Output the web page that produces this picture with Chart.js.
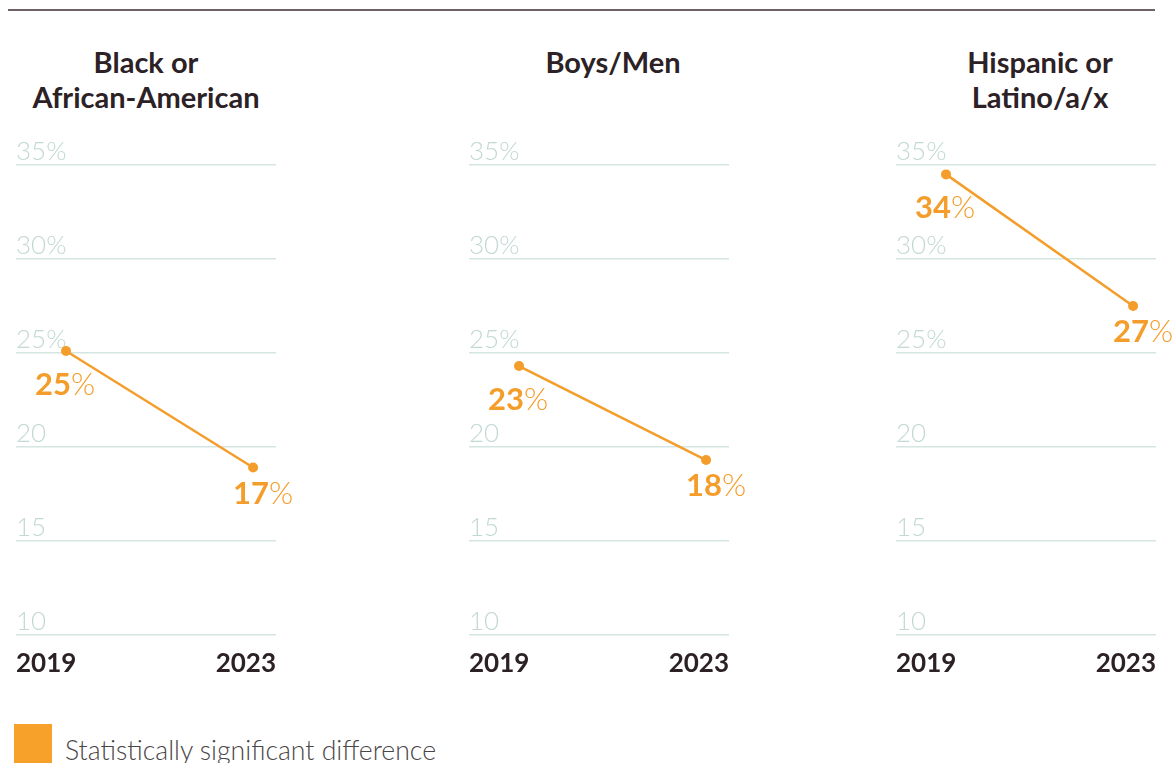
<!DOCTYPE html>
<html>
<head>
<meta charset="utf-8">
<script src="https://cdn.jsdelivr.net/npm/chart.js@4.4.1/dist/chart.umd.min.js"></script>
<style>
  html, body { margin: 0; padding: 0; background: #ffffff; }
  body { width: 1176px; height: 763px; position: relative; overflow: hidden; font-family: Lato, "Noto Sans", sans-serif; }
  .rule { position: absolute; left: 8px; top: 9px; width: 1147px; height: 2px; background: #6e6266; }
  .title { position: absolute; top: 44px; width: 300px; text-align: center; font-family: Lato, sans-serif; font-weight: 700; font-size: 29px; line-height: 35px; color: #2c2125; }
  canvas { position: absolute; top: 120px; }
  .legend-box { position: absolute; left: 14px; top: 724px; width: 38px; height: 40px; background: #F7A02A; }
  .legend-text { position: absolute; left: 65px; top: 735px; font-family: Lato, sans-serif; font-weight: 300; font-size: 26.6px; line-height: 30px; color: #4a4546; white-space: nowrap; }
</style>
</head>
<body>
<div class="rule"></div>
<div class="title" id="t0" style="left:-4px">Black or<br>African-American</div>
<div class="title" id="t1" style="left:463px">Boys/Men</div>
<div class="title" id="t2" style="left:890px">Hispanic or<br>Latino/a/x</div>
<canvas id="c0" width="296" height="580" style="left:0px"></canvas>
<canvas id="c1" width="296" height="580" style="left:453px"></canvas>
<canvas id="c2" width="296" height="580" style="left:880px"></canvas>
<div class="legend-box"></div>
<div class="legend-text">Statistically significant difference</div>
<script>
// ---- data ----
const years = ['2019', '2023'];
const yearValues = [2019, 2023];
const panelTitles = ['Black or African-American', 'Boys/Men', 'Hispanic or Latino/a/x'];
const blackValues = [25.1, 18.9];
const boysValues = [24.3, 19.3];
const hispanicValues = [34.5, 27.5];
const blackLabels = ['25', '17'];
const boysLabels = ['23', '18'];
const hispanicLabels = ['34', '27'];
const tickValues = [10, 15, 20, 25, 30, 35];
const tickLabels = ['10', '15', '20', '25%', '30%', '35%'];

const ORANGE = '#F49D2B';

const valueLabelPlugin = {
  id: 'valueLabels',
  afterDatasetsDraw(chart, args, opts) {
    const ctx = chart.ctx;
    const meta = chart.getDatasetMeta(0);
    const labels = opts.labels;
    meta.data.forEach((pt, i) => {
      const num = labels[i];
      const dx = opts.dx[i], dy = opts.dy[i];
      ctx.save();
      ctx.textBaseline = 'alphabetic';
      ctx.font = '700 31px Lato';
      const wNum = ctx.measureText(num).width;
      ctx.font = '300 31px Lato';
      const wPct = ctx.measureText('%').width;
      const total = wNum + wPct;
      const x0 = pt.x + dx - total / 2;
      const y0 = pt.y + dy;
      ctx.fillStyle = ORANGE;
      ctx.font = '700 31px Lato';
      ctx.fillText(num, x0, y0);
      ctx.font = '300 31px Lato';
      ctx.fillText('%', x0 + wNum, y0);
      ctx.restore();
    });
  }
};

function makeChart(id, values, labels) {
  const points = yearValues.map((yr, i) => ({ x: yr, y: values[i] }));
  return new Chart(document.getElementById(id), {
    type: 'line',
    data: {
      datasets: [{
        data: points,
        xAxisID: 'x',
        yAxisID: 'y',
        borderColor: ORANGE,
        backgroundColor: ORANGE,
        borderWidth: 2.5,
        pointRadius: 5,
        pointBackgroundColor: ORANGE,
        pointBorderWidth: 0,
        tension: 0,
        clip: false
      }]
    },
    options: {
      responsive: false,
      animation: false,
      devicePixelRatio: 1,
      layout: { padding: { left: 16, right: 20, top: 45, bottom: 8 } },
      plugins: {
        legend: { display: false },
        tooltip: { enabled: false },
        title: { display: false },
        valueLabels: { labels: labels, dx: [-1, 10], dy: [44, 36] }
      },
      scales: {
        x: {
          type: 'linear',
          display: false,
          min: 2017.93,
          max: 2023.49
        },
        xYears: {
          type: 'category',
          labels: years,
          position: 'bottom',
          offset: false,
          grid: { display: false, drawTicks: false },
          border: { display: false },
          ticks: {
            align: 'inner',
            padding: 13,
            maxRotation: 0,
            autoSkip: false,
            color: '#2c2125',
            font: { family: 'Lato', size: 26, weight: '700' }
          }
        },
        y: {
          type: 'linear',
          min: 10,
          max: 35,
          position: 'left',
          grid: { color: '#d3e6e2', lineWidth: 1.5, drawTicks: false },
          border: { display: false },
          afterBuildTicks(scale) {
            scale.ticks = tickValues.map(v => ({ value: v }));
          },
          ticks: {
            mirror: true,
            padding: 0,
            labelOffset: -13,
            color: '#c2d8d4',
            font: { family: 'Lato', size: 26, weight: '300' },
            callback(v) {
              const idx = tickValues.indexOf(v);
              return idx >= 0 ? tickLabels[idx] : '';
            }
          }
        }
      }
    },
    plugins: [valueLabelPlugin]
  });
}

makeChart('c0', blackValues, blackLabels);
makeChart('c1', boysValues, boysLabels);
makeChart('c2', hispanicValues, hispanicLabels);
</script>
</body>
</html>
